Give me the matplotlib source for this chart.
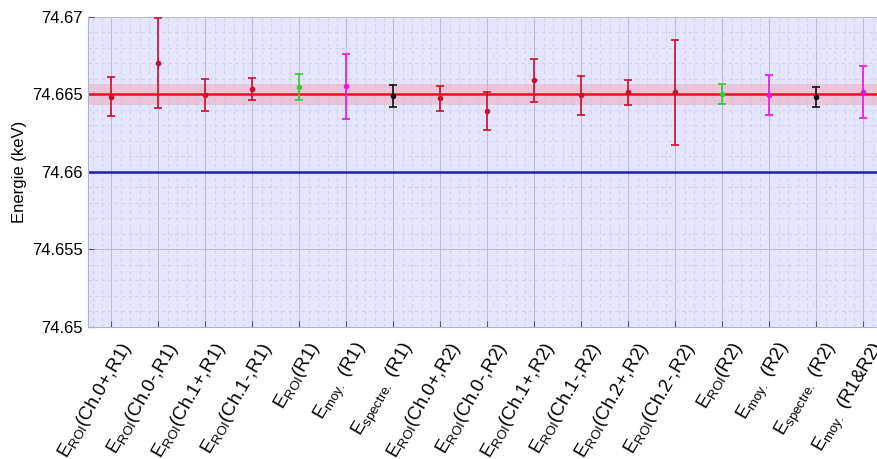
#!/usr/bin/python3

import matplotlib
matplotlib.use("Agg")
import matplotlib.pyplot as plt
import matplotlib.transforms as mtransforms
from matplotlib.ticker import MultipleLocator

plt.rcParams["font.family"] = ["Liberation Sans", "DejaVu Sans"]
plt.rcParams["mathtext.fontset"] = "custom"
plt.rcParams["mathtext.rm"] = "Liberation Sans"
plt.rcParams["mathtext.it"] = "Liberation Sans"

# x tick labels (E with subscript)
labels = [
    r"E$_{\rm ROI}$(Ch.0+,R1)",
    r"E$_{\rm ROI}$(Ch.0-,R1)",
    r"E$_{\rm ROI}$(Ch.1+,R1)",
    r"E$_{\rm ROI}$(Ch.1-,R1)",
    r"E$_{\rm ROI}$(R1)",
    r"E$_{\rm moy.}$ (R1)",
    r"E$_{\rm spectre.}$ (R1)",
    r"E$_{\rm ROI}$(Ch.0+,R2)",
    r"E$_{\rm ROI}$(Ch.0-,R2)",
    r"E$_{\rm ROI}$(Ch.1+,R2)",
    r"E$_{\rm ROI}$(Ch.1-,R2)",
    r"E$_{\rm ROI}$(Ch.2+,R2)",
    r"E$_{\rm ROI}$(Ch.2-,R2)",
    r"E$_{\rm ROI}$(R2)",
    r"E$_{\rm moy.}$ (R2)",
    r"E$_{\rm spectre.}$ (R2)",
    r"E$_{\rm moy.}$ (R1&R2)",
]

energy = [74.66485, 74.66705, 74.66498, 74.66535, 74.66548, 74.66554,
          74.66491, 74.66475, 74.66393, 74.66592, 74.66496, 74.66513,
          74.66513, 74.66502, 74.66498, 74.66483, 74.66516]
errors = [0.00127, 0.0029, 0.00105, 0.0007, 0.00085, 0.0021,
          0.0007, 0.0008, 0.00124, 0.0014, 0.00126, 0.0008,
          0.0034, 0.00066, 0.0013, 0.00064, 0.00165]
kinds = ["roi", "roi", "roi", "roi", "sum", "moy", "spec",
         "roi", "roi", "roi", "roi", "roi", "roi", "sum", "moy", "spec", "moy"]

mean_value = 74.665
mean_error = 0.00066
reference = 74.660

colors = {"roi": "#c8102e", "sum": "#33cc33", "moy": "#ee11ee", "spec": "#111111"}


def main():
    fig = plt.figure(figsize=(8.77, 4.59), dpi=100)
    ax = fig.add_axes([0.1003, 0.2876, 0.8997, 0.6754])
    ax.set_facecolor("#e4e4fc")

    x = list(range(1, len(energy) + 1))

    # mean value with its uncertainty band
    ax.axhspan(mean_value - mean_error, mean_value + mean_error,
               color="#f0a0b0", alpha=0.45, lw=0, zorder=1)
    ax.axhline(mean_value, color="#e8101a", lw=1.8, zorder=2)
    ax.axhline(reference, color="#2020b0", lw=1.8, zorder=2)

    for xi, e, s, k in zip(x, energy, errors, kinds):
        ax.errorbar(xi, e, yerr=s, fmt="o", ms=3, color=colors[k],
                    ecolor=colors[k], elinewidth=1.2, capsize=3,
                    capthick=1.2, zorder=3)

    ax.set_xlim(0.5, 17.29)
    ax.set_ylim(74.65, 74.67)
    ax.set_yticks([74.65, 74.655, 74.66, 74.665, 74.67])
    ax.set_yticklabels(["74.65", "74.655", "74.66", "74.665", "74.67"])
    ax.yaxis.set_minor_locator(MultipleLocator(0.001))
    ax.xaxis.set_minor_locator(MultipleLocator(0.2))
    ax.set_xticks(x)
    ax.set_xticklabels([])

    # rotated labels, ending a bit right of their tick like the original
    shift = mtransforms.ScaledTranslation(7 / 100, -12 / 100,
                                          fig.dpi_scale_trans)
    trans = ax.get_xaxis_transform() + shift
    for xi, lab in zip(x, labels):
        ax.text(xi, 0, lab, transform=trans, rotation=60, ha="right",
                va="top", rotation_mode="anchor", fontsize=13.5,
                clip_on=False)

    ax.grid(True, which="major", color="#b8b8d8", lw=0.7, zorder=0)
    ax.grid(True, which="minor", color="#cdcde6", lw=0.6, ls=(0, (4, 4)),
            zorder=0)
    ax.set_axisbelow(True)

    ax.tick_params(axis="y", which="major", labelsize=12, length=4,
                   color="#555566", direction="in")
    ax.tick_params(axis="x", which="major", length=4, color="#555566",
                   direction="in")
    ax.tick_params(which="minor", length=0)
    for side in ["top", "right"]:
        ax.spines[side].set_visible(False)
    for side in ["left", "bottom"]:
        ax.spines[side].set_color("#b0b0cc")

    ax.set_ylabel("Energie (keV)", fontsize=12, labelpad=4)

    fig.savefig("out.png", dpi=100)


if __name__ == "__main__":
    main()
